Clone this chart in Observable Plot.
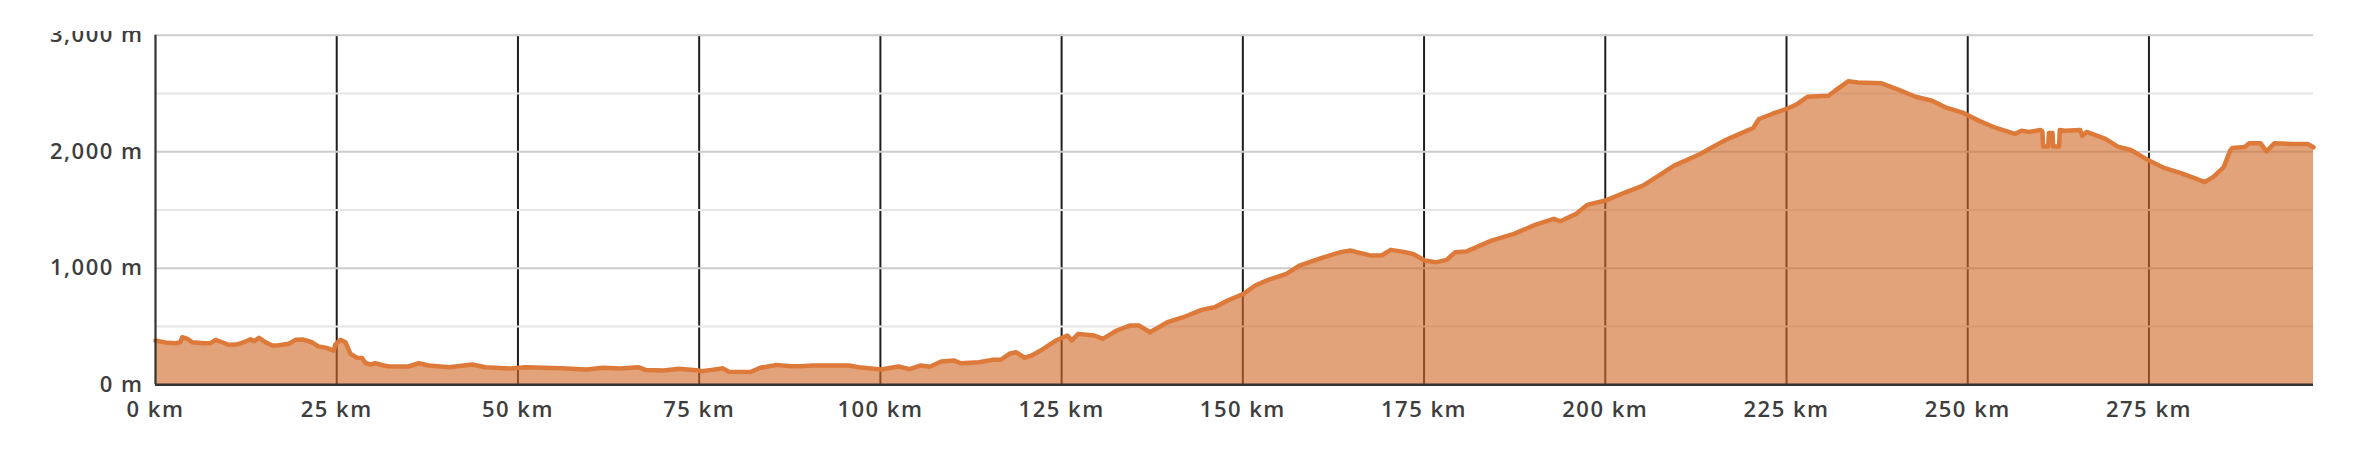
<!DOCTYPE html>
<html>
<head>
<meta charset="utf-8">
<script src="https://cdn.jsdelivr.net/npm/d3@7"></script>
<script src="https://cdn.jsdelivr.net/npm/@observablehq/plot@0.6"></script>
<style>
  html, body { margin: 0; padding: 0; background: #fff; }
  #wrap { padding-top: 31px; width: 2362px; height: 427px; }
</style>
</head>
<body>
<div id="wrap"></div>
<script>
const distanceKm = [
  0, 1.6, 2.9, 3.4, 3.7, 4.4, 5.1, 6.7, 7.6, 8.3, 9.2, 10.1, 11.2, 12.2, 13.1, 13.6, 14.3, 15.2, 16.1, 17.0,
  18.4, 19.3, 20.4, 21.6, 22.5, 23.6, 24.6, 24.8, 25.5, 26.2, 26.9, 27.8, 28.5, 29.0, 29.7, 30.3, 31.5, 32.1, 33.8, 34.9,
  36.3, 37.7, 40.5, 43.7, 45.5, 49.0, 51.1, 56.0, 59.5, 61.7, 64.1, 66.6, 67.6, 70.1, 72.2, 73.8, 75.0, 75.4, 76.7, 77.9,
  78.2, 79.1, 82.1, 83.4, 85.3, 85.6, 87.7, 89.0, 90.8, 95.7, 97.0, 100.1, 102.5, 104.0, 105.6, 106.8, 108.4, 110.2, 111.1, 113.6,
  115.4, 116.6, 117.8, 118.7, 119.9, 120.8, 122.1, 124.2, 125.8, 126.4, 127.3, 129.5, 130.7, 132.6, 134.4, 135.7, 137.2, 139.6, 141.8, 144.3,
  146.1, 147.9, 150.1, 151.7, 153.5, 156.0, 157.8, 160.9, 163.4, 164.9, 165.6, 167.7, 169.2, 170.4, 172.0, 173.5, 175.1, 176.6, 178.1, 179.3,
  180.8, 184.3, 187.4, 190.4, 192.9, 193.8, 196.0, 197.5, 200.0, 202.8, 205.2, 207.0, 209.5, 213.1, 214.9, 216.6, 218.3, 220.4, 221.2, 223.0,
  225.0, 226.5, 227.9, 230.8, 231.7, 233.5, 234.9, 238.1, 240.5, 242.8, 245.1, 246.9, 249.2, 251.5, 253.9, 256.5, 257.4, 258.5, 260.0, 260.3,
  260.4, 261.1, 261.2, 261.7, 261.8, 262.6, 262.7, 263.4, 265.5, 265.8, 266.4, 269.0, 270.7, 272.5, 275.0, 277.1, 279.5, 281.2, 282.7, 283.8,
  285.3, 286.2, 286.5, 288.2, 288.8, 290.4, 291.2, 292.3, 294.6, 296.9, 297.7
];
const elevationM = [
  380, 360, 357, 365, 408, 394, 365, 357, 358, 386, 365, 343, 345, 365, 391, 374, 403, 365, 337, 340,
  352, 386, 388, 365, 328, 317, 294, 345, 386, 365, 266, 232, 230, 185, 174, 185, 166, 160, 157, 157,
  185, 166, 151, 174, 151, 140, 151, 143, 131, 146, 140, 151, 128, 122, 137, 130, 122, 117, 128, 137,
  143, 112, 110, 146, 166, 171, 160, 160, 166, 166, 150, 131, 157, 135, 166, 155, 200, 208, 185, 194,
  214, 215, 266, 280, 232, 250, 294, 380, 423, 380, 437, 423, 394, 466, 508, 508, 451, 537, 580, 643,
  666, 723, 780, 852, 900, 952, 1023, 1089, 1137, 1152, 1140, 1109, 1112, 1158, 1143, 1123, 1066, 1051, 1072, 1137,
  1143, 1237, 1295, 1375, 1424, 1403, 1467, 1544, 1581, 1652, 1709, 1780, 1881, 1981, 2044, 2101, 2147, 2204, 2281, 2324,
  2367, 2410, 2472, 2481, 2524, 2604, 2595, 2587, 2530, 2472, 2438, 2381, 2338, 2267, 2204, 2153, 2181, 2170, 2187, 2175,
  2044, 2044, 2160, 2160, 2044, 2044, 2187, 2180, 2187, 2138, 2170, 2110, 2044, 2015, 1924, 1861, 1815, 1775, 1740, 1780,
  1866, 2009, 2032, 2040, 2072, 2072, 2003, 2072, 2067, 2067, 2038
];
const xTicks = [0, 25, 50, 75, 100, 125, 150, 175, 200, 225, 250, 275];
const yMajorTicks = [0, 1000, 2000, 3000];
const yMinorTicks = [500, 1500, 2500];

const profile = distanceKm.map((d, i) => ({km: d, m: elevationM[i]}));
const fmtM = d3.format(",");

const chart = Plot.plot({
  width: 2362,
  height: 427,
  marginLeft: 155,
  marginRight: 49,
  marginTop: 3.7,
  marginBottom: 73.7,
  style: "font-family: 'Open Sans', sans-serif; font-size: 22px; font-weight: 600; letter-spacing: 1.5px; color: #3d3d3d; overflow: hidden; background: #fff;",
  x: {domain: [0, 297.7]},
  y: {domain: [0, 3000]},
  marks: [
    Plot.ruleX(xTicks.filter(d => d > 0), {stroke: "#231c1c", strokeWidth: 2, y1: 0, y2: 3000}),
    Plot.ruleY(yMinorTicks, {stroke: "#e6e6e6", strokeWidth: 2}),
    Plot.ruleY(yMajorTicks.filter(d => d > 0), {stroke: "#cccccc", strokeWidth: 2}),
    Plot.areaY(profile, {x: "km", y: "m", fill: "#d06a2a", fillOpacity: 0.62}),
    Plot.lineY(profile, {x: "km", y: "m", stroke: "#dd7a3a", strokeWidth: 4.5, strokeLinejoin: "round"}),
    Plot.ruleX([0], {stroke: "#333333", strokeWidth: 2.2, y1: 0, y2: 3000}),
    Plot.ruleY([0], {stroke: "#333333", strokeWidth: 2.6}),
    Plot.axisX(xTicks, {tickSize: 0, tickPadding: 17, tickFormat: d => `${d} km`, label: null}),
    Plot.axisY(yMajorTicks, {tickSize: 0, tickPadding: 12, tickFormat: d => `${fmtM(d)} m`, label: null})
  ]
});
document.getElementById("wrap").appendChild(chart);
</script>
</body>
</html>
